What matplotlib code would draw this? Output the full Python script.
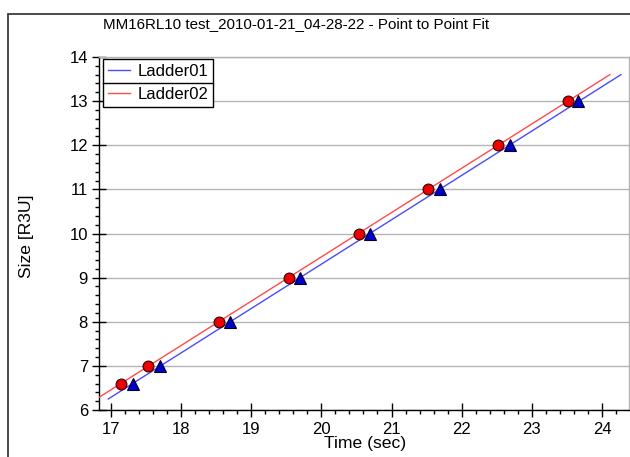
import numpy as np
import matplotlib
matplotlib.use("Agg")
import matplotlib.pyplot as plt
from matplotlib.lines import Line2D
from matplotlib.patches import Rectangle
from matplotlib.ticker import MultipleLocator

plt.rcParams['font.family'] = ['Liberation Sans', 'DejaVu Sans']

title = "MM16RL10 test_2010-01-21_04-28-22 - Point to Point Fit"
series_names = ["Ladder01", "Ladder02"]

# measured sizes (R3U) and the times at which each ladder reached them
sizes = [6.6, 7.0, 8.0, 9.0, 10.0, 11.0, 12.0, 13.0]
time_ladder01 = [17.32, 17.70, 18.70, 19.70, 20.69, 21.69, 22.69, 23.66]
time_ladder02 = [17.15, 17.53, 18.54, 19.54, 20.53, 21.52, 22.52, 23.51]

# size span covered by the fitted lines
fit_span = [6.25, 13.6]

W, H, DPI = 630, 457, 100
fig = plt.figure(figsize=(W / DPI, H / DPI), dpi=DPI)

def fx(px):
    return px / W

def fy(py):
    return 1 - py / H

# outer frame of the chart panel
fig.patches.append(Rectangle((fx(8), -0.2), 1.5, fy(14) + 0.2,
                             transform=fig.transFigure, fill=False,
                             edgecolor='#3c3c3c', linewidth=1.3))

ax = fig.add_axes([fx(99), fy(410), fx(629) - fx(99), fy(57) - fy(410)])
ax.set_xlim(16.833, 24.383)
ax.set_ylim(6, 14)

line_colors = ['#4a4aff', '#ff4a4a']
times = [time_ladder01, time_ladder02]
for name, t, col in zip(series_names, times, line_colors):
    m, b = np.polyfit(t, sizes, 1)
    s = np.array(fit_span)
    ax.plot((s - b) / m, s, color=col, lw=1.0, label=name, zorder=3)

ax.plot(time_ladder02, sizes, linestyle='none', marker='o', ms=7.8,
        mfc='#ee0000', mec='#300000', mew=0.8, zorder=4)
ax.plot(time_ladder01, sizes, linestyle='none', marker='^', ms=9.2,
        mfc='#0000cc', mec='#000020', mew=0.8, zorder=4)

# axes styling
ax.xaxis.set_major_locator(MultipleLocator(1))
ax.xaxis.set_minor_locator(MultipleLocator(0.2))
ax.yaxis.set_major_locator(MultipleLocator(1))
ax.yaxis.set_minor_locator(MultipleLocator(0.2))
ax.grid(axis='y', which='major', color='#b4b4b4', lw=1.0, zorder=0)
ax.set_axisbelow(True)
for side in ('top', 'right'):
    ax.spines[side].set_color('#b4b4b4')
    ax.spines[side].set_linewidth(1.0)
for side in ('left', 'bottom'):
    ax.spines[side].set_color('black')
    ax.spines[side].set_linewidth(1.0)
ax.tick_params(which='major', direction='inout', length=10, width=1.0,
               labelsize=12, color='black')
ax.tick_params(which='minor', direction='out', length=3, width=1.0,
               color='black')
ax.tick_params(axis='x', which='major', pad=3.5)
ax.tick_params(axis='y', which='major', pad=3)

fig.text(fx(296), fy(28), title, ha='center', va='baseline', fontsize=10.9)
fig.text(fx(365), fy(448), "Time (sec)", ha='center', va='baseline',
         fontsize=12.6)
fig.text(fx(26), fy(236), "Size [R3U]", ha='center', va='center',
         rotation=90, fontsize=12.6)

leg = ax.legend(loc='upper left', bbox_to_anchor=(fx(103), fy(59)),
                bbox_transform=fig.transFigure, frameon=True, fancybox=False,
                edgecolor='black', framealpha=1, fontsize=12,
                handlelength=1.3, handletextpad=0.45, borderpad=0.3,
                labelspacing=0.5, borderaxespad=0)
leg.get_frame().set_linewidth(1.0)
leg.set_zorder(5)

# row divider inside the legend box
fig.canvas.draw()
bb = leg.get_frame().get_window_extent()
ymid = (bb.y0 + bb.y1) / 2
fig.add_artist(Line2D([bb.x0, bb.x1], [ymid, ymid], transform=None,
                      color='black', lw=1.0, zorder=6))

fig.savefig("out.png", dpi=DPI)
